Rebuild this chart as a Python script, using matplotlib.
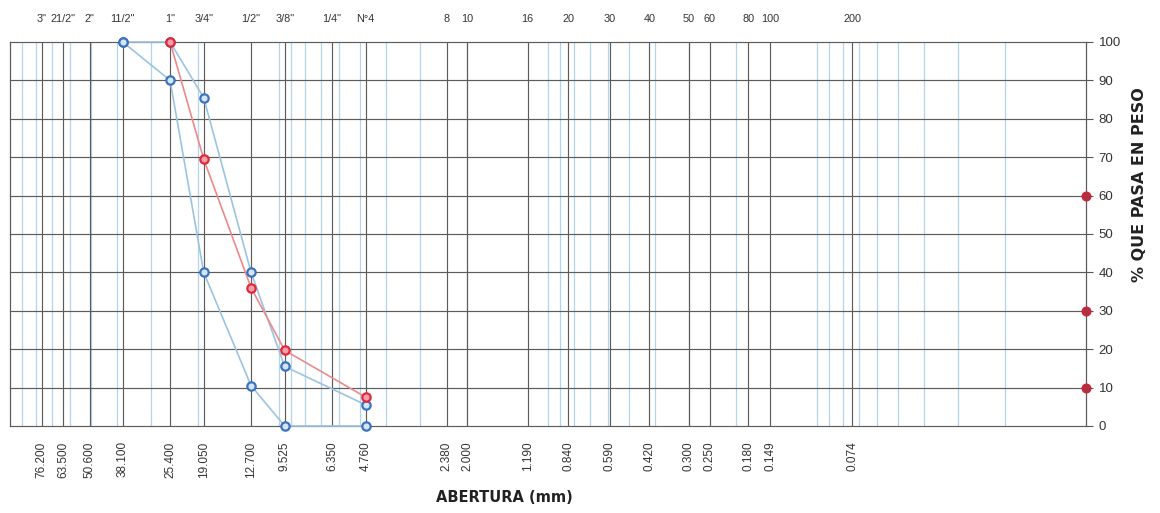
import matplotlib
matplotlib.use("Agg")
import matplotlib.pyplot as plt
import numpy as np
from matplotlib.ticker import FixedLocator, NullLocator

# --- data ---
sieve_mm = [76.2, 63.5, 50.6, 38.1, 25.4, 19.05, 12.7, 9.525, 6.35, 4.76,
            2.38, 2.0, 1.19, 0.84, 0.59, 0.42, 0.30, 0.25, 0.18, 0.149, 0.074]
bottom_labels = ["76.200", "63.500", "50.600", "38.100", "25.400", "19.050", "12.700",
                 "9.525", "6.350", "4.760", "2.380", "2.000", "1.190", "0.840", "0.590",
                 "0.420", "0.300", "0.250", "0.180", "0.149", "0.074"]
top_labels = ['3"', '21/2"', '2"', '11/2"', '1"', '3/4"', '1/2"', '3/8"', '1/4"', 'N°4',
              '8', '10', '16', '20', '30', '40', '50', '60', '80', '100', '200']

upper_x = [38.1, 25.4, 19.05, 12.7, 9.525, 4.76]
upper_y = [100, 100, 85.5, 40, 15.5, 5.5]
lower_x = [38.1, 25.4, 19.05, 12.7, 9.525, 4.76]
lower_y = [100, 90, 40, 10.5, 0, 0]
sample_x = [25.4, 19.05, 12.7, 9.525, 4.76]
sample_y = [100, 69.5, 36, 19.7, 7.5]
edge_x = [0.01, 0.01, 0.01]
edge_y = [60, 30, 10]

fig = plt.figure(figsize=(11.6, 5.13), dpi=100)
ax = fig.add_axes([10/1160, 1-426/513, (1086-10)/1160, (426-42)/513])
ax.set_xscale("log")
ax.set_xlim(100, 0.01)
ax.set_ylim(0, 100)

# grid: light blue log minor lines
minor = [m * 10.0**k for k in range(-2, 2) for m in range(2, 10)] + [0.1, 1, 10]
for v in minor:
    ax.axvline(v, color="#b3d4ea", lw=0.9, zorder=1)
# dark lines at sieve sizes
grid_c = "#5c5c5c"
for v in sieve_mm:
    ax.axvline(v, color=grid_c, lw=0.85, zorder=1.5)
ax.axvline(100, color=grid_c, lw=0.9, zorder=1.5, clip_on=False)
ax.axvline(0.01, color=grid_c, lw=0.9, zorder=1.5, clip_on=False)
for yv in range(0, 101, 10):
    ax.axhline(yv, color=grid_c, lw=0.85, zorder=1.6, clip_on=False)

for s in ax.spines.values():
    s.set_visible(False)

blue_edge = "#3b72c0"
blue_line = "#9cc4e0"
ax.plot(upper_x, upper_y, color=blue_line, lw=1.2, zorder=3, clip_on=False)
ax.plot(lower_x, lower_y, color=blue_line, lw=1.2, zorder=3, clip_on=False)
ax.plot(upper_x, upper_y, ls="none", marker="o", ms=6, mfc="#d6e6f5", mec=blue_edge, mew=1.6,
        zorder=4, clip_on=False)
ax.plot(lower_x, lower_y, ls="none", marker="o", ms=6, mfc="#d6e6f5", mec=blue_edge, mew=1.6,
        zorder=4, clip_on=False)
ax.plot(sample_x, sample_y, color="#ec8a8a", lw=1.2, zorder=3.5, clip_on=False)
ax.plot(sample_x, sample_y, ls="none", marker="o", ms=6, mfc="#f4a0a8", mec="#e0283a", mew=1.6,
        zorder=5, clip_on=False)
ax.plot(edge_x, edge_y, ls="none", marker="o", ms=6, mfc="#b03040", mec="#c82838", mew=1.2,
        zorder=5, clip_on=False)

# bottom ticks
ax.xaxis.set_major_locator(FixedLocator(sieve_mm))
ax.xaxis.set_minor_locator(NullLocator())
ax.set_xticklabels(bottom_labels, rotation=90, fontsize=8.5, family="Liberation Sans", color="#333333")
ax.tick_params(axis="x", length=0, pad=11)

# right y axis
ax.yaxis.tick_right()
ax.set_yticks(range(0, 101, 10))
ax.tick_params(axis="y", length=5, width=0.8, color="#555555", labelsize=9.5, pad=4, labelcolor="#333333")
for t in ax.get_yticklabels():
    t.set_family("Liberation Sans")

# top labels
sec = ax.secondary_xaxis("top")
sec.xaxis.set_major_locator(FixedLocator(sieve_mm))
sec.xaxis.set_minor_locator(NullLocator())
sec.set_xticklabels(top_labels, fontsize=7.8, family="Liberation Sans", color="#333333")
sec.tick_params(axis="x", length=0, pad=13)
sec.spines["top"].set_visible(False)

fig.text(1140/1160, 1-185/513, "% QUE PASA EN PESO", rotation=90, ha="center", va="center",
         fontsize=11.5, fontweight="bold", family="DejaVu Sans", color="#222222")
fig.text(504/1160, 1-497/513, "ABERTURA (mm)", ha="center", va="center",
         fontsize=10.5, fontweight="bold", family="DejaVu Sans", color="#222222")

fig.savefig("out.png", dpi=100)
